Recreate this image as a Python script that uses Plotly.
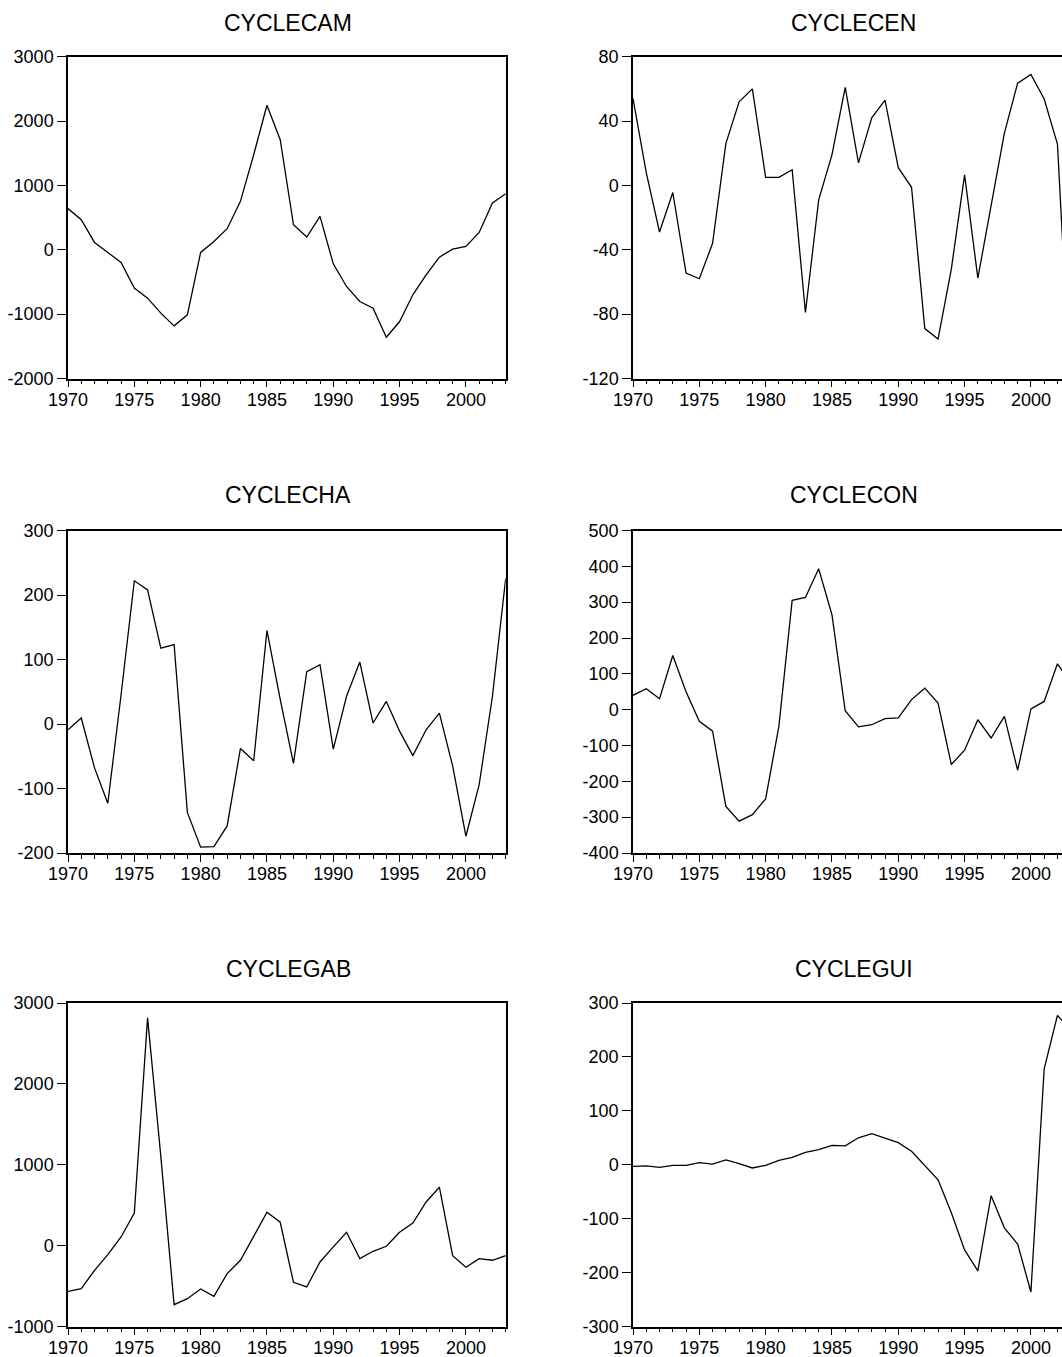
import plotly.graph_objects as go

years = list(range(1970, 2004))

cyclecam = [640, 467, 114, -42, -197, -596, -752, -985, -1182, -1011,
            -41, 130, 327, 752, 1477, 2245, 1711, 389, 197, 518,
            -218, -570, -803, -907, -1358, -1115, -700, -389, -114, 10,
            52, 270, 726, 871]
cyclecen = [54, 8, -29, -4.4, -54.5, -58, -36, 26, 52, 60,
            5, 5, 9.7, -79, -9, 19, 61, 14, 42, 53,
            11, -1.2, -89, -95.5, -52, 6.6, -57.6, -13, 32.5, 63.6,
            69, 53.7, 25.7, -130]
cyclecha = [-9, 9.3, -68, -123, 45, 222, 208, 117.5, 123, -137,
            -191, -190, -158, -38, -57, 145, 38, -61, 81, 92,
            -39, 43, 96, 1.5, 35, -11, -49, -9, 17, -65,
            -174, -94, 43, 226]
cyclecon = [40, 58.6, 30.7, 151, 50, -32.5, -60, -270, -311, -293,
            -249, -46, 305, 313, 393, 265, -3, -48, -42, -25,
            -23, 28, 60, 18.6, -153, -113, -28, -79, -18.6, -169,
            2, 23, 128, 75]
cyclegab = [-565, -532, -305, -111, 107, 404, 2816, 1100, -730, -656,
            -536, -627, -346, -181, 115, 412, 289, -454, -511, -202,
            -16, 165, -161, -70, -8, 165, 280, 540, 722, -124,
            -268, -161, -181, -124]
cyclegui = [-3, -2, -5, -1, -1, 4, 1, 9, 2, -6,
            -1, 8, 13.6, 23, 28, 36, 35, 50, 57.5, 49,
            41, 25, -2.5, -28, -89, -158, -197, -57.5, -117, -147,
            -236, 178, 277, 250]

titles = ["CYCLECAM", "CYCLECEN", "CYCLECHA", "CYCLECON", "CYCLEGAB", "CYCLEGUI"]
series = [cyclecam, cyclecen, cyclecha, cyclecon, cyclegab, cyclegui]

x_tickvals = [1970, 1975, 1980, 1985, 1990, 1995, 2000]
x_ticktext = ["1970", "1975", "1980", "1985", "1990", "1995", "2000"]

y_ticks = [
    [-2000, -1000, 0, 1000, 2000, 3000],
    [-120, -80, -40, 0, 40, 80],
    [-200, -100, 0, 100, 200, 300],
    [-400, -300, -200, -100, 0, 100, 200, 300, 400, 500],
    [-1000, 0, 1000, 2000, 3000],
    [-300, -200, -100, 0, 100, 200, 300],
]
y_ticktext = [[str(v) for v in t] for t in y_ticks]

W, H = 1062, 1357
# pixel geometry
left_x = (68, 505.7)
right_x = (633, 1062)
rows_y = [(56.7, 378.5), (530.5, 853.0), (1003.0, 1326.5)]
title_y = [23, 495, 969]
title_x = [288, 853.5]
px_per_year = (left_x[1] - left_x[0]) / 33.0
right_end_year = 1970 + (right_x[1] - right_x[0]) / px_per_year

fig = go.Figure()
font_family = "Liberation Sans, Arial, sans-serif"
layout = dict(
    template="none",
    width=W, height=H,
    margin=dict(l=0, r=0, t=0, b=0, autoexpand=False),
    paper_bgcolor="white", plot_bgcolor="white",
    showlegend=False,
    font=dict(family=font_family, color="black", size=18),
)
annotations = []
for i in range(6):
    r, c = divmod(i, 2)
    n = i + 1
    xs = "" if n == 1 else str(n)
    xd = left_x if c == 0 else right_x
    yd = rows_y[r]
    fig.add_trace(go.Scatter(
        x=years, y=series[i], mode="lines",
        line=dict(color="black", width=1.3),
        xaxis="x" + xs, yaxis="y" + xs, cliponaxis=True,
    ))
    xrange = [1970, 2003] if c == 0 else [1970, right_end_year]
    layout["xaxis" + xs] = dict(
        domain=[xd[0] / W, xd[1] / W],
        anchor="y" + xs,
        range=xrange, automargin=False,
        tickmode="array", tickvals=x_tickvals, ticktext=x_ticktext,
        ticks="outside", ticklen=7, tickwidth=1.2, tickcolor="black",
        ticklabelstandoff=-3,
        minor=dict(tickmode="linear", tick0=1970, dtick=1, ticks="outside",
                   ticklen=4, tickwidth=1.2, tickcolor="black", showgrid=False),
        showline=True, linecolor="black", linewidth=1.5, mirror=True,
        showgrid=False, zeroline=False,
        tickfont=dict(size=18, family=font_family, color="black"),
        fixedrange=True,
    )
    yt = y_ticks[i]
    layout["yaxis" + xs] = dict(
        domain=[1 - yd[1] / H, 1 - yd[0] / H],
        anchor="x" + xs,
        range=[yt[0], yt[-1]], automargin=False,
        tickmode="array", tickvals=yt, ticktext=y_ticktext[i],
        ticks="outside", ticklen=9, tickwidth=1.2, tickcolor="black",
        showline=True, linecolor="black", linewidth=1.5,
        mirror=True if c == 0 else False,
        showgrid=False, zeroline=False,
        tickfont=dict(size=18, family=font_family, color="black"),
        fixedrange=True,
    )
    annotations.append(dict(
        text=titles[i], xref="paper", yref="paper",
        x=title_x[c] / W, y=1 - title_y[r] / H,
        xanchor="center", yanchor="middle", showarrow=False,
        font=dict(size=23, family=font_family, color="black"),
    ))
layout["annotations"] = annotations
fig.update_layout(**layout)
fig.write_html("out.html")
